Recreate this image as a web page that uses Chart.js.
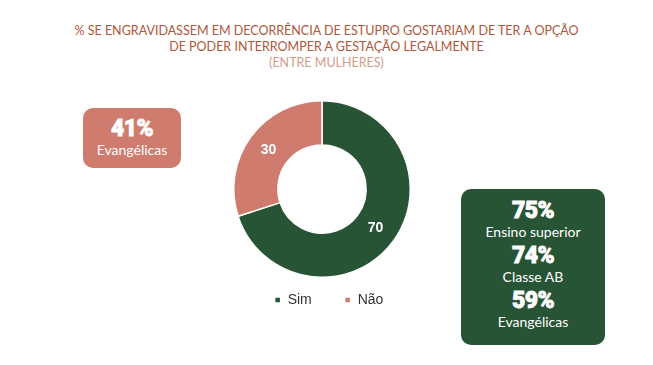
<!DOCTYPE html>
<html>
<head>
<meta charset="utf-8">
<script src="https://cdn.jsdelivr.net/npm/chart.js@4"></script>
<style>
  body { margin: 0; background: #fff; width: 653px; height: 365px; position: relative; overflow: hidden; font-family: "Lato", sans-serif; }
  .title { position: absolute; left: 0; width: 653px; top: 23px; text-align: center; color: #b0573b; font-size: 12.5px; line-height: 16px; font-weight: 400; }
  .title .sub { color: #d39c88; }
  .box { position: absolute; border-radius: 10px; color: #fff; text-align: center; }
  .box .num { font-family: "Roboto", sans-serif; font-weight: 900; font-size: 23px; line-height: 24px; letter-spacing: -0.5px; -webkit-text-stroke: 0.8px #fff; }
  .box .lbl { font-size: 14px; line-height: 18px; }
  #wrap { position: absolute; left: 222px; top: 100px; width: 200px; height: 217px; }
</style>
</head>
<body>
<div class="title">% SE ENGRAVIDASSEM EM DECORRÊNCIA DE ESTUPRO GOSTARIAM DE TER A OPÇÃO<br>DE PODER INTERROMPER A GESTAÇÃO LEGALMENTE<br><span class="sub">(ENTRE MULHERES)</span></div>

<div class="box" style="left:83px; top:108px; width:98px; height:60px; background:#cf7b6e;">
  <div class="num" style="margin-top:9px">41%</div>
  <div class="lbl">Evangélicas</div>
</div>

<div class="box" style="left:461px; top:189px; width:144px; height:156px; background:#285436;">
  <div class="num" style="margin-top:10px">75%</div>
  <div class="lbl">Ensino superior</div>
  <div class="num" style="margin-top:3px">74%</div>
  <div class="lbl">Classe AB</div>
  <div class="num" style="margin-top:3px">59%</div>
  <div class="lbl">Evangélicas</div>
</div>

<div id="wrap"><canvas id="chart"></canvas></div>

<script>
const categories = ['Sim', 'Não'];
const values = [70, 30];
const colors = ['#285436', '#cf7b6e'];

// draw the value inside each slice
const sliceLabels = {
  id: 'sliceLabels',
  afterDatasetsDraw(chart) {
    const ctx = chart.ctx;
    const meta = chart.getDatasetMeta(0);
    ctx.save();
    ctx.fillStyle = '#fff';
    ctx.font = 'bold 14px "Liberation Sans", Arial, sans-serif';
    ctx.textAlign = 'center';
    ctx.textBaseline = 'middle';
    meta.data.forEach((arc, i) => {
      const p = arc.tooltipPosition();
      ctx.fillText(values[i], p.x, p.y);
    });
    ctx.restore();
  }
};

// legend sits a little right of the doughnut centre in the original
const nudgeLegend = {
  id: 'nudgeLegend',
  afterLayout(chart) {
    chart.legend.left += 7;
    chart.legend.right += 7;
  }
};

new Chart(document.getElementById('chart'), {
  type: 'doughnut',
  data: {
    labels: categories,
    datasets: [{
      data: values,
      backgroundColor: colors,
      borderColor: '#fff',
      borderWidth: 1.5
    }]
  },
  options: {
    responsive: true,
    maintainAspectRatio: false,
    animation: false,
    cutout: '50%',
    layout: { padding: 0 },
    plugins: {
      legend: {
        position: 'bottom',
        labels: {
          boxWidth: 6,
          boxHeight: 6,
          padding: 15,
          color: '#333',
          font: { family: '"Liberation Sans", Arial, sans-serif', size: 14 },
          // a bit more room after the first item, as in the original
          generateLabels(chart) {
            const items = Chart.overrides.doughnut.plugins.legend.labels.generateLabels(chart);
            items[0].text = items[0].text + '\u2003 ';
            return items;
          }
        }
      },
      tooltip: { enabled: false }
    }
  },
  plugins: [sliceLabels, nudgeLegend]
});
</script>
</body>
</html>
